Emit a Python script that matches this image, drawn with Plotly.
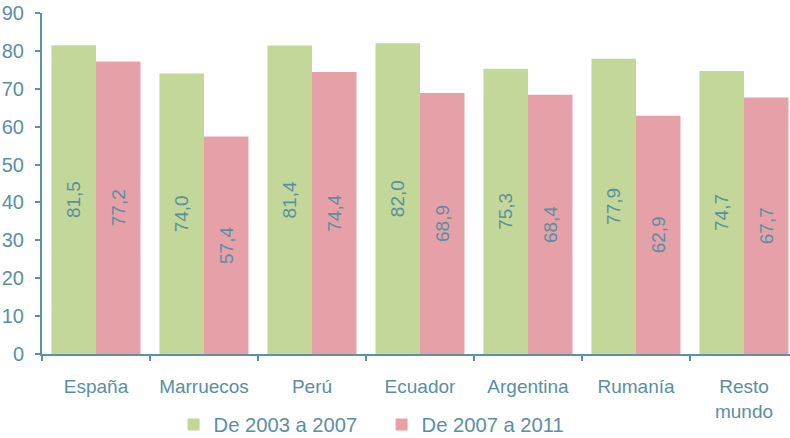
import plotly.graph_objects as go

categories = ["España", "Marruecos", "Perú", "Ecuador", "Argentina", "Rumanía", "Resto<br>mundo"]
series1_name = "De 2003 a 2007"
series2_name = "De 2007 a 2011"
series1 = [81.5, 74.0, 81.4, 82.0, 75.3, 77.9, 74.7]
series2 = [77.2, 57.4, 74.4, 68.9, 68.4, 62.9, 67.7]
y_ticks = [0, 10, 20, 30, 40, 50, 60, 70, 80, 90]

axis_color = "#5b93a4"
text_color = "#5a8fa2"
green = "#c3d898"
pink = "#e6a1a8"
font_family = "Liberation Sans, Arial, sans-serif"

fig = go.Figure()
for name, vals, col in [(series1_name, series1, green), (series2_name, series2, pink)]:
    fig.add_trace(go.Bar(
        x=categories, y=vals, name=name,
        marker=dict(color=col, line=dict(width=0)),
        texttemplate="%{y:.1f}", textposition="inside", insidetextanchor="middle",
        textangle=-90, textfont=dict(color=text_color, size=19, family=font_family),
        hoverinfo="skip",
    ))

fig.update_layout(
    width=790, height=438,
    margin=dict(l=42, r=0, t=13, b=84, autoexpand=False),
    paper_bgcolor="white", plot_bgcolor="white",
    separators=",.",
    barmode="group", bargap=0.176, bargroupgap=0,
    font=dict(family=font_family, color=text_color, size=19),
    showlegend=True,
    legend=dict(orientation="h", x=0.483, xanchor="center", y=0.03, yanchor="middle",
                yref="container", xref="container",
                font=dict(size=20.2, color=text_color), itemsizing="constant",
                entrywidth=163, entrywidthmode="pixels"),
    uniformtext=dict(mode=False),
)
fig.update_xaxes(
    range=[-0.5, 6.426], showline=True, linecolor=axis_color, linewidth=2,
    ticks="outside", tickson="boundaries", ticklen=5, tickwidth=2, tickcolor=axis_color,
    ticklabelstandoff=14, tickfont=dict(size=19, color=text_color), showgrid=False,
    automargin=False,
)
fig.update_yaxes(
    range=[0, 90], tickvals=y_ticks, showline=True, linecolor=axis_color, linewidth=2,
    ticks="outside", ticklen=5, tickwidth=2, tickcolor=axis_color, showgrid=False,
    zeroline=False, ticklabelstandoff=7, tickfont=dict(size=20, color=text_color),
    automargin=False,
)

fig.write_html("out.html", config={"displayModeBar": False},
               post_script="document.body.style.margin='0';document.body.style.overflow='hidden';")
